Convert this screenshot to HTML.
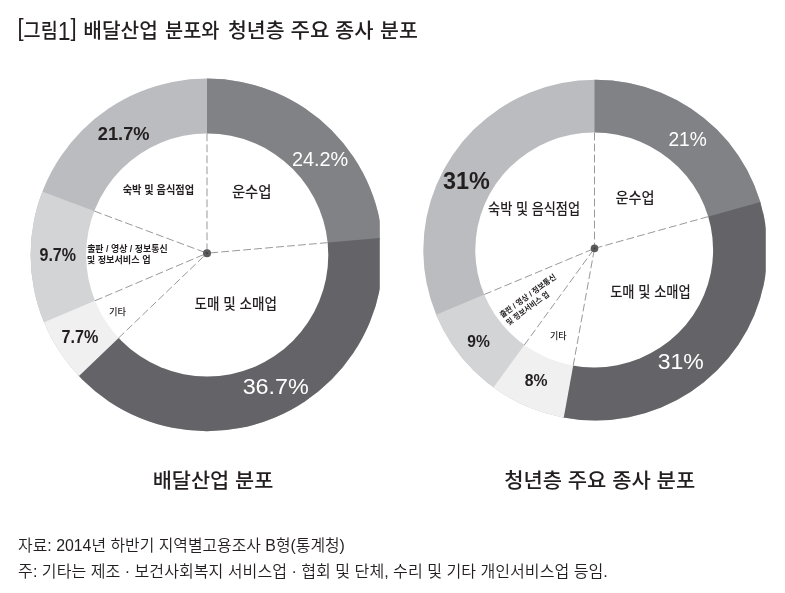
<!DOCTYPE html>
<html lang="ko"><head><meta charset="utf-8"><title>그림1</title>
<style>
html,body{margin:0;padding:0;background:#fff;}
body{width:785px;height:593px;overflow:hidden;}
svg{display:block;}
text{font-family:"Liberation Sans","Noto Sans CJK KR",sans-serif;}
</style></head><body>
<svg width="785" height="593" viewBox="0 0 785 593">
<rect width="785" height="593" fill="#fff"/>
<clipPath id="c1"><ellipse cx="206.9" cy="254.9" rx="176.3" ry="176.3"/></clipPath>
<clipPath id="r1"><rect x="0" y="0" width="379.7" height="593"/></clipPath>
<g clip-path="url(#r1)"><g clip-path="url(#c1)">
<circle cx="206.9" cy="254.9" r="179.3" fill="#bbbcbf"/>
<polygon points="207.00,253.20 207.00,-166.80 276.24,-161.05 343.58,-143.97 407.19,-116.02 465.32,-77.96 516.38,-30.85 558.98,24.04 591.94,85.20 614.37,150.96 625.65,219.52" fill="#808285"/>
<polygon points="207.00,253.20 625.40,216.59 625.74,285.71 614.74,353.95 592.69,419.46 560.20,480.47 518.14,535.32 467.65,582.53 410.11,620.82 347.06,649.16 280.22,666.77 211.40,673.18 142.46,668.21 75.26,652.00 11.64,625.00 -46.70,587.92 -98.16,541.78" fill="#646368"/>
<polygon points="207.00,253.20 -96.14,543.90 -129.60,504.40 -157.95,461.08 -180.75,414.60" fill="#f0f0f1"/>
<polygon points="207.00,253.20 -179.61,417.31 -199.99,356.94 -211.00,294.18 -212.39,230.49 -204.12,167.31 -186.40,106.11" fill="#d3d4d6"/>
</g></g>
<ellipse cx="207.2" cy="255" rx="121.1" ry="121.6" fill="#fff"/>
<line x1="207.00" y1="133.40" x2="207.00" y2="253.20" stroke="#97999c" stroke-width="1" stroke-dasharray="7.8 3.2"/>
<line x1="327.67" y1="242.64" x2="207.00" y2="253.20" stroke="#97999c" stroke-width="1" stroke-dasharray="7.8 3.2"/>
<line x1="118.64" y1="337.94" x2="207.00" y2="253.20" stroke="#97999c" stroke-width="1" stroke-dasharray="7.8 3.2"/>
<line x1="95.00" y1="300.74" x2="207.00" y2="253.20" stroke="#97999c" stroke-width="1" stroke-dasharray="7.8 3.2"/>
<line x1="94.28" y1="211.06" x2="207.00" y2="253.20" stroke="#97999c" stroke-width="1" stroke-dasharray="7.8 3.2"/>
<circle cx="207" cy="253.2" r="4" fill="#5a5a5d"/>
<circle cx="207" cy="253.2" r="0.9" fill="#3a3a3c"/>
<clipPath id="c2"><ellipse cx="595.3" cy="250.1" rx="172" ry="170.4"/></clipPath>
<clipPath id="r2"><rect x="0" y="0" width="765.7" height="593"/></clipPath>
<g clip-path="url(#r2)"><g clip-path="url(#c2)">
<circle cx="595.3" cy="250.1" r="175" fill="#bbbcbf"/>
<polygon points="594.50,248.40 594.50,-171.60 662.74,-166.02 729.16,-149.43 792.00,-122.27 849.60,-85.25 900.42,-39.38 943.11,14.15 976.53,73.90 999.81,138.28" fill="#808285"/>
<polygon points="594.50,248.40 999.03,135.45 1012.27,205.17 1013.58,276.11 1002.94,346.27 980.63,413.63 947.31,476.28 903.91,532.42 851.68,580.45 792.11,619.01 726.90,646.99 657.91,663.59 587.11,668.33 516.52,661.10" fill="#646368"/>
<polygon points="594.50,248.40 519.40,661.63 457.76,645.52 399.27,620.27 345.26,586.46" fill="#f0f0f1"/>
<polygon points="594.50,248.40 347.63,588.19 303.67,551.41 265.12,508.99 232.71,461.72 207.03,410.48" fill="#d3d4d6"/>
</g></g>
<ellipse cx="594.2" cy="250" rx="118.9" ry="117.4" fill="#fff"/>
<line x1="594.50" y1="132.60" x2="594.50" y2="248.40" stroke="#97999c" stroke-width="1" stroke-dasharray="7.8 3.2"/>
<line x1="708.20" y1="216.65" x2="594.50" y2="248.40" stroke="#97999c" stroke-width="1" stroke-dasharray="7.8 3.2"/>
<line x1="573.21" y1="365.56" x2="594.50" y2="248.40" stroke="#97999c" stroke-width="1" stroke-dasharray="7.8 3.2"/>
<line x1="524.32" y1="344.99" x2="594.50" y2="248.40" stroke="#97999c" stroke-width="1" stroke-dasharray="7.8 3.2"/>
<line x1="484.19" y1="294.54" x2="594.50" y2="248.40" stroke="#97999c" stroke-width="1" stroke-dasharray="7.8 3.2"/>
<circle cx="594.5" cy="248.4" r="3.8" fill="#5a5a5d"/>
<circle cx="594.5" cy="248.4" r="0.9" fill="#3a3a3c"/>
<text transform="translate(17.45,38.2) scale(0.919,1)" font-size="20.2" font-weight="500" fill="#231f20"><tspan font-size="1.188em" dy="-0.083em">[</tspan><tspan dy="0.099em">그림</tspan><tspan font-size="1.238em" dy="0.052em">1</tspan><tspan font-size="1.188em" dy="-0.1375em">]</tspan> </text>
<text transform="translate(83.31,38.2) scale(1.003,1)" font-size="20.2" font-weight="500" fill="#231f20">배달산업 </text>
<text transform="translate(165.01,38.2) scale(0.978,1)" font-size="20.2" font-weight="500" fill="#231f20">분포와 </text>
<text transform="translate(227.98,38.2) scale(1.014,1)" font-size="20.2" font-weight="500" fill="#231f20">청년층 </text>
<text transform="translate(290.54,38.2) scale(1.047,1)" font-size="20.2" font-weight="500" fill="#231f20">주요 </text>
<text transform="translate(334.95,38.2) scale(1.037,1)" font-size="20.2" font-weight="500" fill="#231f20">종사 </text>
<text transform="translate(379.97,38.2) scale(1.018,1)" font-size="20.2" font-weight="500" fill="#231f20">분포</text>
<text transform="translate(97.79,139.88) scale(1.027,1)" font-size="17.8" font-weight="700" fill="#231f20">21.7%</text>
<text transform="translate(291.91,166.16) scale(1.003,1)" font-size="19.8" font-weight="400" fill="#fff">24.2%</text>
<text transform="translate(242.63,394.44) scale(1.038,1)" font-size="22.5" font-weight="400" fill="#fff">36.7%</text>
<text transform="translate(61.59,343.08) scale(0.909,1)" font-size="17.8" font-weight="700" fill="#231f20">7.7%</text>
<text transform="translate(39.46,261.08) scale(0.902,1)" font-size="17.8" font-weight="700" fill="#231f20">9.7%</text>
<text transform="translate(122.66,193.84) scale(0.883,1)" font-size="11.58" font-weight="700" fill="#231f20">숙박 및 음식점업</text>
<text transform="translate(231.88,196.79) scale(0.965,1)" font-size="14.9" font-weight="500" fill="#231f20">운수업</text>
<text transform="translate(194.52,309.04) scale(0.913,1)" font-size="14.9" font-weight="500" fill="#231f20">도매 및 소매업</text>
<text transform="translate(87.15,252.05) scale(0.942,1)" font-size="9.47" font-weight="700" fill="#231f20">출판 / 영상 / 정보통신</text>
<text transform="translate(86.84,263.05) scale(0.963,1)" font-size="9.47" font-weight="700" fill="#231f20">및 정보서비스 업</text>
<text transform="translate(108.88,315.43) scale(1.006,1)" font-size="9.2" font-weight="500" fill="#231f20">기타</text>
<text transform="translate(668.44,145.66) scale(0.97,1)" font-size="19.8" font-weight="400" fill="#fff">21%</text>
<text transform="translate(443.02,189.4) scale(0.994,1)" font-size="23.56" font-weight="700" fill="#231f20">31%</text>
<text transform="translate(657.65,369.24) scale(1.023,1)" font-size="22.5" font-weight="400" fill="#fff">31%</text>
<text transform="translate(467.28,347.27) scale(0.958,1)" font-size="16.3" font-weight="700" fill="#231f20">9%</text>
<text transform="translate(524.77,386.12) scale(0.967,1)" font-size="16.3" font-weight="700" fill="#231f20">8%</text>
<text transform="translate(488.04,213.94) scale(0.884,1)" font-size="14.9" font-weight="500" fill="#231f20">숙박 및 음식점업</text>
<text transform="translate(615.49,202.74) scale(0.95,1)" font-size="14.9" font-weight="500" fill="#231f20">운수업</text>
<text transform="translate(610.14,297.04) scale(0.891,1)" font-size="14.9" font-weight="500" fill="#231f20">도매 및 소매업</text>
<text transform="translate(549.9,339.38) scale(0.981,1)" font-size="9.2" font-weight="500" fill="#231f20">기타</text>
<text transform="translate(152.66,488.26) scale(1.006,1)" font-size="20.7" font-weight="500" fill="#231f20">배달산업 분포</text>
<text transform="translate(504.15,487.91) scale(1.013,1)" font-size="20.7" font-weight="500" fill="#231f20">청년층 주요 종사 분포</text>
<text transform="translate(18.11,550.76) scale(0.975,1)" font-size="16.3" font-weight="350" fill="#231f20">자료: 2014년 하반기 지역별고용조사 B형(통계청)</text>
<text transform="translate(18.1,577.0) scale(0.987,1)" font-size="16.3" font-weight="350" fill="#231f20">주: 기타는 제조 · 보건사회복지 서비스업 · 협회 및 단체, 수리 및 기타 개인서비스업 등임.</text>
<text transform="translate(527.8,295.8) rotate(-36.2) scale(0.95,1)" y="2.8" text-anchor="middle" font-size="7.9" font-weight="700" fill="#231f20">출판 / 영상 / 정보통신</text>
<text transform="translate(527.65,308.3) rotate(-36.2) scale(0.93,1)" y="2.8" text-anchor="middle" font-size="7.9" font-weight="700" fill="#231f20">및 정보서비스 업</text>
</svg>
</body></html>
